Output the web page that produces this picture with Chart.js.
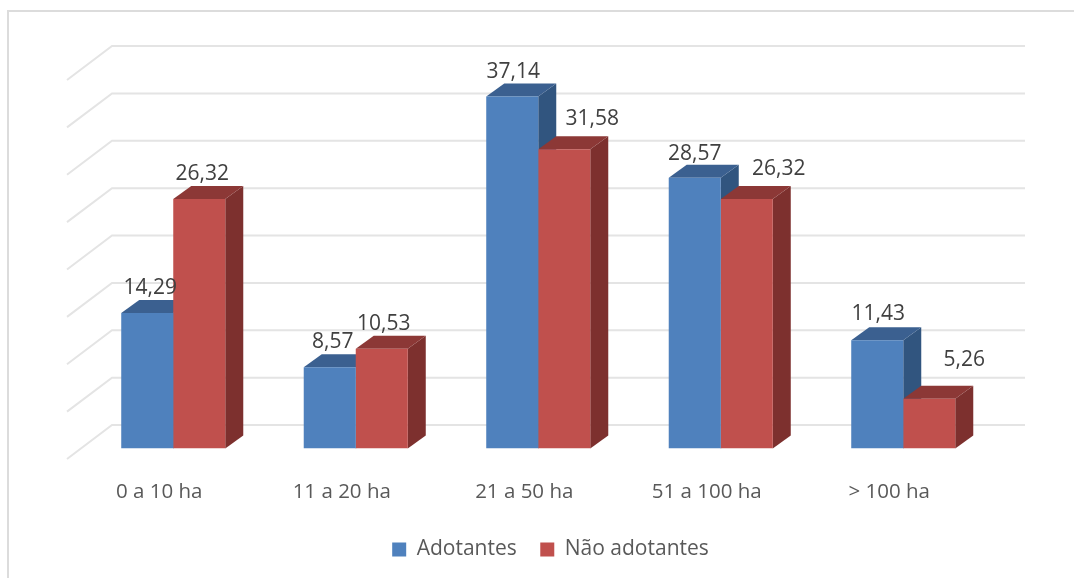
<!DOCTYPE html>
<html>
<head>
<meta charset="utf-8">
<title>Adotantes e não adotantes por área</title>
<script src="https://cdn.jsdelivr.net/npm/chart.js@4"></script>
<style>
  html, body { margin: 0; padding: 0; background: #fff; overflow: hidden; }
  #frame { position: absolute; left: 7px; top: 10px; right: 0; bottom: 0; border-top: 2px solid #dcdcdc; border-left: 2px solid #dcdcdc; }
  canvas { position: absolute; left: 0; top: 0; filter: blur(0.45px); }
</style>
</head>
<body>
<div id="frame"></div>
<canvas id="chart" width="1074" height="578"></canvas>
<script>
const categories = ['0 a 10 ha', '11 a 20 ha', '21 a 50 ha', '51 a 100 ha', '> 100 ha'];
const adotantes = [14.29, 8.57, 37.14, 28.57, 11.43];
const naoAdotantes = [26.32, 10.53, 31.58, 26.32, 5.26];

const FONT = '"Open Sans", sans-serif';

// bar depth, and how far the back wall sits from the plane of the bars
const BAR_DX = 18, BAR_DY = -13;
const WALL_DX = 30, WALL_DY = -23.5;
const WALL_RIGHT = 1025;
const FLOOR_DX = -45, FLOOR_DY = 34;

// hand placed labels, as in the original: [dx, dy] from the top centre of the front face
const labelShift = [
  [[3, -25], [3, -25], [1, -25], [0, -24], [1, -26]],
  [[3, -25], [2, -25], [28, -30], [32, -30], [35, -39]],
];

const faces = [
  { top: '#3b6090', side: '#31557f' },
  { top: '#8c3836', side: '#7d302e' },
];

const depth3d = {
  id: 'depth3d',
  afterLayout(chart) {
    // the legend sits right of centre in the original
    chart.legend.left += 24.5;
  },
  beforeDatasetsDraw(chart) {
    const { ctx, scales: { y } } = chart;
    const left = chart.chartArea.left + WALL_DX;
    ctx.save();
    ctx.strokeStyle = '#e4e4e4';
    ctx.lineWidth = 2;
    for (const tick of y.ticks) {
      const py = y.getPixelForValue(tick.value) + WALL_DY;
      ctx.beginPath();
      ctx.moveTo(left + FLOOR_DX, py + FLOOR_DY);
      ctx.lineTo(left, py);
      ctx.lineTo(WALL_RIGHT, py);
      ctx.stroke();
    }
    chart.data.datasets.forEach((ds, i) => {
      chart.getDatasetMeta(i).data.forEach(bar => {
        const l = bar.x - bar.width / 2, r = bar.x + bar.width / 2;
        ctx.fillStyle = faces[i].side;
        ctx.beginPath();
        ctx.moveTo(r, bar.y);
        ctx.lineTo(r + BAR_DX, bar.y + BAR_DY);
        ctx.lineTo(r + BAR_DX, bar.base + BAR_DY);
        ctx.lineTo(r, bar.base);
        ctx.closePath();
        ctx.fill();
        ctx.fillStyle = faces[i].top;
        ctx.beginPath();
        ctx.moveTo(l, bar.y);
        ctx.lineTo(l + BAR_DX, bar.y + BAR_DY);
        ctx.lineTo(r + BAR_DX, bar.y + BAR_DY);
        ctx.lineTo(r, bar.y);
        ctx.closePath();
        ctx.fill();
      });
    });
    ctx.restore();
  },
  afterDatasetsDraw(chart) {
    const { ctx } = chart;
    ctx.save();
    ctx.font = '21px ' + FONT;
    ctx.fillStyle = '#404040';
    ctx.textAlign = 'center';
    ctx.textBaseline = 'middle';
    chart.data.datasets.forEach((ds, i) => {
      chart.getDatasetMeta(i).data.forEach((bar, j) => {
        const [dx, dy] = labelShift[i][j];
        ctx.fillText(ds.data[j].toFixed(2).replace('.', ','), bar.x + dx, bar.y + dy);
      });
    });
    ctx.restore();
  },
};

new Chart(document.getElementById('chart'), {
  type: 'bar',
  data: {
    labels: categories,
    datasets: [
      { label: 'Adotantes', data: adotantes, backgroundColor: '#4f81bd' },
      { label: 'Não adotantes', data: naoAdotantes, backgroundColor: '#c0504d' },
    ],
  },
  options: {
    responsive: false,
    animation: false,
    categoryPercentage: 0.57,
    barPercentage: 1,
    layout: { padding: { left: 82, right: 79.5, top: 69.5, bottom: 8 } },
    plugins: {
      tooltip: { enabled: false },
      legend: {
        position: 'bottom',
        labels: { boxWidth: 14, boxHeight: 14, padding: 23.5, color: '#595959', font: { family: FONT, size: 21 } },
      },
    },
    scales: {
      x: {
        grid: { display: false },
        border: { display: false },
        afterFit(scale) { scale.height = 67; },
        ticks: { color: '#595959', padding: 23, labelOffset: -14, maxRotation: 0, font: { family: FONT, size: 20.5 } },
      },
      y: {
        min: 0,
        max: 40,
        grid: { display: false },
        border: { display: false },
        afterFit(scale) { scale.width = 0; },
        ticks: { stepSize: 5, display: false },
      },
    },
  },
  plugins: [depth3d],
});
</script>
</body>
</html>
